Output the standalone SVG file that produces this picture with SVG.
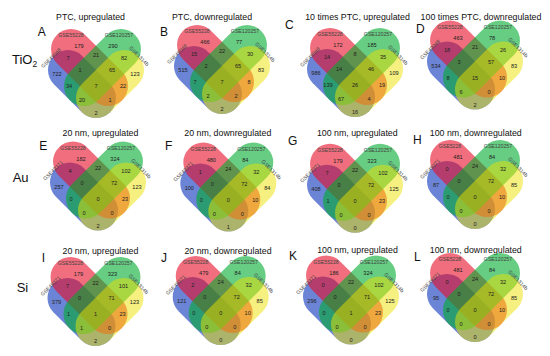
<svg xmlns="http://www.w3.org/2000/svg" xmlns:xlink="http://www.w3.org/1999/xlink" width="550" height="356" viewBox="0 0 550 356">
<style>
.t{font-family:"Liberation Sans",Arial,sans-serif;font-size:8.8px;fill:#111;text-anchor:middle}
.L{font-family:"Liberation Sans",Arial,sans-serif;font-size:12px;fill:#111}
.rw{font-family:"Liberation Sans",Arial,sans-serif;font-size:13px;fill:#111}
.n{font-family:"Liberation Sans",Arial,sans-serif;font-size:5.6px;fill:#222;text-anchor:middle}
.s{font-family:"Liberation Sans",Arial,sans-serif;font-size:5.2px;fill:#444;text-anchor:middle}
.cb{fill:#0a32bb;fill-opacity:.6}
.cr{fill:#e60d26;fill-opacity:.6}
.cg{fill:#00ac2f;fill-opacity:.6}
.cy{fill:#ebe100;fill-opacity:.5}
</style>
<defs>
<g id="venn">
<rect class="cb" x="-51.1" y="-11.5" width="79.6" height="40" rx="20" transform="rotate(45)"/>
<rect class="cr" x="-63.8" y="-28.5" width="92.3" height="40" rx="20" transform="rotate(45)"/>
<rect class="cg" x="-63.8" y="-28.5" width="92.3" height="40" rx="20" transform="scale(-1,1) rotate(45)"/>
<rect class="cy" x="-51.1" y="-11.5" width="79.6" height="40" rx="20" transform="scale(-1,1) rotate(45)"/>
</g>
</defs>
<rect width="550" height="356" fill="#fff"/>
<g id="row-labels">
<text class="rw" x="12" y="63.5">TiO<tspan font-size="8.5" dy="3">2</tspan></text>
<text class="rw" x="12.7" y="182">Au</text>
<text class="rw" x="16.7" y="292">Si</text>
</g>
<g id="titles">
<text class="t" x="90.5" y="19.5">PTC, upregulated</text>
<text class="t" x="212" y="19.5">PTC, downregulated</text>
<text class="t" x="357.5" y="19.5">10 times PTC, upregulated</text>
<text class="t" x="481" y="19.5">100 times PTC, downregulated</text>
<text class="t" x="100.5" y="136">20 nm, upregulated</text>
<text class="t" x="227.8" y="136">20 nm, downregulated</text>
<text class="t" x="357.3" y="135.5">100 nm, upregulated</text>
<text class="t" x="475.8" y="135.5">100 nm, downregulated</text>
<text class="t" x="100.5" y="254">20 nm, upregulated</text>
<text class="t" x="228" y="254">20 nm, downregulated</text>
<text class="t" x="357.5" y="253">100 nm, upregulated</text>
<text class="t" x="475.8" y="253">100 nm, downregulated</text>
</g>
<g id="letters">
<text class="L" x="37.7" y="36">A</text>
<text class="L" x="160" y="36">B</text>
<text class="L" x="285" y="29.3">C</text>
<text class="L" x="416" y="33">D</text>
<text class="L" x="39.3" y="150">E</text>
<text class="L" x="165" y="150">F</text>
<text class="L" x="288" y="145">G</text>
<text class="L" x="413" y="144">H</text>
<text class="L" x="41.7" y="262">I</text>
<text class="L" x="161" y="262">J</text>
<text class="L" x="289" y="260">K</text>
<text class="L" x="414" y="261">L</text>
</g>

<g id="panel-A" transform="translate(96,86)">
<use href="#venn"/>
<text class="s" x="-25" y="-49">GSE55228</text><text class="s" x="23" y="-49">GSE120257</text>
<text class="s" transform="translate(-45,-28) rotate(-45)" y="1.8">GSE49048</text><text class="s" transform="translate(43,-30) rotate(45)" y="1.8">GSE1314b</text>
<text class="n" x="-17" y="-38">179</text><text class="n" x="17" y="-38">290</text>
<text class="n" x="-28" y="-26">7</text><text class="n" x="0" y="-29">21</text><text class="n" x="28" y="-26">82</text>
<text class="n" x="-39" y="-10">722</text><text class="n" x="-16" y="-14">1</text><text class="n" x="16" y="-14">65</text><text class="n" x="39" y="-10">123</text>
<text class="n" x="-27" y="2">34</text><text class="n" x="0" y="2">7</text><text class="n" x="27" y="2">22</text>
<text class="n" x="-14" y="16">20</text><text class="n" x="14" y="16">1</text><text class="n" x="0" y="29">2</text>
</g>

<g id="panel-B" transform="translate(222,82)">
<use href="#venn"/>
<text class="s" x="-25" y="-49">GSE55228</text><text class="s" x="23" y="-49">GSE120257</text>
<text class="s" transform="translate(-45,-28) rotate(-45)" y="1.8">GSE49048</text><text class="s" transform="translate(43,-30) rotate(45)" y="1.8">GSE1314b</text>
<text class="n" x="-17" y="-38">466</text><text class="n" x="17" y="-38">77</text>
<text class="n" x="-28" y="-26">15</text><text class="n" x="0" y="-29">22</text><text class="n" x="28" y="-26">30</text>
<text class="n" x="-39" y="-10">515</text><text class="n" x="-16" y="-14">2</text><text class="n" x="16" y="-14">65</text><text class="n" x="39" y="-10">83</text>
<text class="n" x="-27" y="2">7</text><text class="n" x="0" y="2">7</text><text class="n" x="27" y="2">8</text>
<text class="n" x="-14" y="16">2</text><text class="n" x="14" y="16">2</text><text class="n" x="0" y="29">2</text>
</g>

<g id="panel-C" transform="translate(355,85)">
<use href="#venn"/>
<text class="s" x="-25" y="-49">GSE55228</text><text class="s" x="23" y="-49">GSE120257</text>
<text class="s" transform="translate(-45,-28) rotate(-45)" y="1.8">GSE49048</text><text class="s" transform="translate(43,-30) rotate(45)" y="1.8">GSE1314b</text>
<text class="n" x="-17" y="-38">172</text><text class="n" x="17" y="-38">185</text>
<text class="n" x="-28" y="-26">14</text><text class="n" x="0" y="-29">8</text><text class="n" x="28" y="-26">35</text>
<text class="n" x="-39" y="-10">986</text><text class="n" x="-16" y="-14">14</text><text class="n" x="16" y="-14">46</text><text class="n" x="39" y="-10">109</text>
<text class="n" x="-27" y="2">139</text><text class="n" x="0" y="2">26</text><text class="n" x="27" y="2">19</text>
<text class="n" x="-14" y="16">67</text><text class="n" x="14" y="16">4</text><text class="n" x="0" y="29">16</text>
</g>

<g id="panel-D" transform="translate(475,77.5)">
<use href="#venn"/>
<text class="s" x="-25" y="-49">GSE55228</text><text class="s" x="23" y="-49">GSE120257</text>
<text class="s" transform="translate(-45,-28) rotate(-45)" y="1.8">GSE49048</text><text class="s" transform="translate(43,-30) rotate(45)" y="1.8">GSE1314b</text>
<text class="n" x="-17" y="-38">463</text><text class="n" x="17" y="-38">78</text>
<text class="n" x="-28" y="-26">18</text><text class="n" x="0" y="-29">21</text><text class="n" x="28" y="-26">26</text>
<text class="n" x="-39" y="-10">534</text><text class="n" x="-16" y="-14">3</text><text class="n" x="16" y="-14">57</text><text class="n" x="39" y="-10">83</text>
<text class="n" x="-27" y="2">8</text><text class="n" x="0" y="2">15</text><text class="n" x="27" y="2">10</text>
<text class="n" x="-14" y="16">6</text><text class="n" x="14" y="16">0</text><text class="n" x="0" y="29">2</text>
</g>

<g id="panel-E" transform="translate(98,198.5)">
<use href="#venn"/>
<text class="s" x="-25" y="-49">GSE55228</text><text class="s" x="23" y="-49">GSE120257</text>
<text class="s" transform="translate(-45,-28) rotate(-45)" y="1.8">GSE49371</text><text class="s" transform="translate(43,-30) rotate(45)" y="1.8">GSE1314b</text>
<text class="n" x="-17" y="-38">182</text><text class="n" x="17" y="-38">324</text>
<text class="n" x="-28" y="-26">4</text><text class="n" x="0" y="-29">22</text><text class="n" x="28" y="-26">102</text>
<text class="n" x="-39" y="-10">257</text><text class="n" x="-16" y="-14">0</text><text class="n" x="16" y="-14">72</text><text class="n" x="39" y="-10">123</text>
<text class="n" x="-27" y="2">0</text><text class="n" x="0" y="2">0</text><text class="n" x="27" y="2">23</text>
<text class="n" x="-14" y="16">0</text><text class="n" x="14" y="16">0</text><text class="n" x="0" y="29">2</text>
</g>

<g id="panel-F" transform="translate(228.3,199.5)">
<use href="#venn"/>
<text class="s" x="-25" y="-49">GSE55228</text><text class="s" x="23" y="-49">GSE120257</text>
<text class="s" transform="translate(-45,-28) rotate(-45)" y="1.8">GSE49371</text><text class="s" transform="translate(43,-30) rotate(45)" y="1.8">GSE1314b</text>
<text class="n" x="-17" y="-38">480</text><text class="n" x="17" y="-38">84</text>
<text class="n" x="-28" y="-26">1</text><text class="n" x="0" y="-29">24</text><text class="n" x="28" y="-26">32</text>
<text class="n" x="-39" y="-10">100</text><text class="n" x="-16" y="-14">0</text><text class="n" x="16" y="-14">72</text><text class="n" x="39" y="-10">84</text>
<text class="n" x="-27" y="2">0</text><text class="n" x="0" y="2">0</text><text class="n" x="27" y="2">10</text>
<text class="n" x="-14" y="16">0</text><text class="n" x="14" y="16">0</text><text class="n" x="0" y="29">1</text>
</g>

<g id="panel-G" transform="translate(355,200.8)">
<use href="#venn"/>
<text class="s" x="-25" y="-49">GSE55228</text><text class="s" x="23" y="-49">GSE120257</text>
<text class="s" transform="translate(-45,-28) rotate(-45)" y="1.8">GSE49371</text><text class="s" transform="translate(43,-30) rotate(45)" y="1.8">GSE1314b</text>
<text class="n" x="-17" y="-38">179</text><text class="n" x="17" y="-38">323</text>
<text class="n" x="-28" y="-26">7</text><text class="n" x="0" y="-29">22</text><text class="n" x="28" y="-26">102</text>
<text class="n" x="-39" y="-10">408</text><text class="n" x="-16" y="-14">0</text><text class="n" x="16" y="-14">72</text><text class="n" x="39" y="-10">125</text>
<text class="n" x="-27" y="2">1</text><text class="n" x="0" y="2">0</text><text class="n" x="27" y="2">23</text>
<text class="n" x="-14" y="16">0</text><text class="n" x="14" y="16">0</text><text class="n" x="0" y="29">0</text>
</g>

<g id="panel-H" transform="translate(475,197)">
<use href="#venn"/>
<text class="s" x="-25" y="-49">GSE5228</text><text class="s" x="23" y="-49">GSE120257</text>
<text class="s" transform="translate(-45,-28) rotate(-45)" y="1.8">GSE49371</text><text class="s" transform="translate(43,-30) rotate(45)" y="1.8">GSE1314b</text>
<text class="n" x="-17" y="-38">481</text><text class="n" x="17" y="-38">84</text>
<text class="n" x="-28" y="-26">0</text><text class="n" x="0" y="-29">24</text><text class="n" x="28" y="-26">32</text>
<text class="n" x="-39" y="-10">87</text><text class="n" x="-16" y="-14">0</text><text class="n" x="16" y="-14">72</text><text class="n" x="39" y="-10">85</text>
<text class="n" x="-27" y="2">0</text><text class="n" x="0" y="2">0</text><text class="n" x="27" y="2">10</text>
<text class="n" x="-14" y="16">0</text><text class="n" x="14" y="16">0</text><text class="n" x="0" y="29">0</text>
</g>

<g id="panel-I" transform="translate(95.5,314)">
<use href="#venn"/>
<text class="s" x="-25" y="-49">GSE55228</text><text class="s" x="23" y="-49">GSE120257</text>
<text class="s" transform="translate(-45,-28) rotate(-45)" y="1.8">GSE49371</text><text class="s" transform="translate(43,-30) rotate(45)" y="1.8">GSE1314b</text>
<text class="n" x="-17" y="-38">179</text><text class="n" x="17" y="-38">323</text>
<text class="n" x="-28" y="-26">7</text><text class="n" x="0" y="-29">22</text><text class="n" x="28" y="-26">101</text>
<text class="n" x="-39" y="-10">379</text><text class="n" x="-16" y="-14">0</text><text class="n" x="16" y="-14">71</text><text class="n" x="39" y="-10">123</text>
<text class="n" x="-27" y="2">1</text><text class="n" x="0" y="2">1</text><text class="n" x="27" y="2">23</text>
<text class="n" x="-14" y="16">1</text><text class="n" x="14" y="16">0</text><text class="n" x="0" y="29">2</text>
</g>

<g id="panel-J" transform="translate(220.7,313)">
<use href="#venn"/>
<text class="s" x="-25" y="-49">GSE55228</text><text class="s" x="23" y="-49">GSE120257</text>
<text class="s" transform="translate(-45,-28) rotate(-45)" y="1.8">GSE49371</text><text class="s" transform="translate(43,-30) rotate(45)" y="1.8">GSE1314b</text>
<text class="n" x="-17" y="-38">479</text><text class="n" x="17" y="-38">84</text>
<text class="n" x="-28" y="-26">2</text><text class="n" x="0" y="-29">24</text><text class="n" x="28" y="-26">32</text>
<text class="n" x="-39" y="-10">121</text><text class="n" x="-16" y="-14">0</text><text class="n" x="16" y="-14">72</text><text class="n" x="39" y="-10">85</text>
<text class="n" x="-27" y="2">0</text><text class="n" x="0" y="2">0</text><text class="n" x="27" y="2">10</text>
<text class="n" x="-14" y="16">0</text><text class="n" x="14" y="16">0</text><text class="n" x="0" y="29">0</text>
</g>

<g id="panel-K" transform="translate(351,312.5)">
<use href="#venn"/>
<text class="s" x="-25" y="-49">GSE55228</text><text class="s" x="23" y="-49">GSE120257</text>
<text class="s" transform="translate(-45,-28) rotate(-45)" y="1.8">GSE49371</text><text class="s" transform="translate(43,-30) rotate(45)" y="1.8">GSE1314b</text>
<text class="n" x="-17" y="-38">186</text><text class="n" x="17" y="-38">324</text>
<text class="n" x="-28" y="-26">0</text><text class="n" x="0" y="-29">22</text><text class="n" x="28" y="-26">102</text>
<text class="n" x="-39" y="-10">296</text><text class="n" x="-16" y="-14">0</text><text class="n" x="16" y="-14">71</text><text class="n" x="39" y="-10">125</text>
<text class="n" x="-27" y="2">0</text><text class="n" x="0" y="2">1</text><text class="n" x="27" y="2">23</text>
<text class="n" x="-14" y="16">0</text><text class="n" x="14" y="16">0</text><text class="n" x="0" y="29">0</text>
</g>

<g id="panel-L" transform="translate(475,310)">
<use href="#venn"/>
<text class="s" x="-25" y="-49">GSE5228</text><text class="s" x="23" y="-49">GSE120257</text>
<text class="s" transform="translate(-45,-28) rotate(-45)" y="1.8">GSE49371</text><text class="s" transform="translate(43,-30) rotate(45)" y="1.8">GSE1314b</text>
<text class="n" x="-17" y="-38">481</text><text class="n" x="17" y="-38">84</text>
<text class="n" x="-28" y="-26">0</text><text class="n" x="0" y="-29">24</text><text class="n" x="28" y="-26">32</text>
<text class="n" x="-39" y="-10">95</text><text class="n" x="-16" y="-14">0</text><text class="n" x="16" y="-14">72</text><text class="n" x="39" y="-10">85</text>
<text class="n" x="-27" y="2">0</text><text class="n" x="0" y="2">0</text><text class="n" x="27" y="2">10</text>
<text class="n" x="-14" y="16">0</text><text class="n" x="14" y="16">0</text><text class="n" x="0" y="29">0</text>
</g>
</svg>
